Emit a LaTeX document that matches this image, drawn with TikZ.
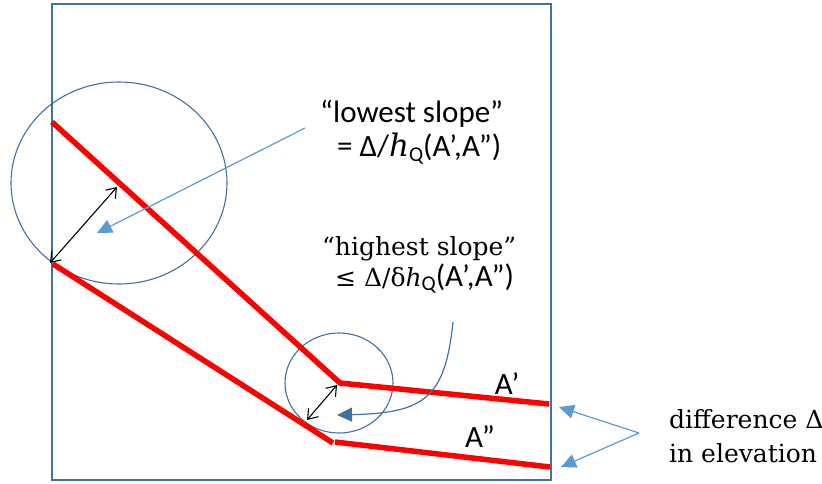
\documentclass[tikz,border=0pt]{standalone}
\usepackage{fontspec}
\setmainfont{Carlito}
\newfontfamily\calfont{Carlito}
\newfontfamily\serfont{DejaVu Serif}
\usetikzlibrary{arrows.meta}
\definecolor{boxblue}{HTML}{41719C}
\definecolor{lightblue}{HTML}{5B9BD5}
\tikzset{
  frame/.style={draw=boxblue, line width=2.2pt},
  ring/.style={draw=boxblue, line width=1.1pt},
  redline/.style={draw=red, line width=5.5pt, line join=miter},
  ptr/.style={draw=lightblue, line width=1.2pt, -{Triangle[length=15pt,width=14pt]}},
  dptr/.style={draw=boxblue, line width=1.2pt, -{Triangle[length=15pt,width=14pt]}},
  dbl/.style={draw=black, line width=1.1pt, {Straight Barb[length=9pt,width=13pt]}-{Straight Barb[length=9pt,width=13pt]}},
  sanslbl/.style={font=\calfont\fontsize{31}{35}\selectfont, inner sep=0pt},
  serlbl/.style={font=\serfont\fontsize{25}{30}\selectfont, inner sep=0pt}
}
\begin{document}
\begin{tikzpicture}[x=1pt,y=-1pt]
\useasboundingbox (0,0) rectangle (822,483);
% frame
\draw[frame] (52,4) rectangle (551,480);
% circles
\draw[ring] (119,183) ellipse [x radius=108, y radius=101];
\draw[ring] (339,383) ellipse [x radius=54, y radius=50];
% red lines
\coordinate (a1) at (52,122);
\coordinate (a2) at (340,383);
\coordinate (a3) at (549,404);
\coordinate (b1) at (53,264);
\coordinate (b2) at (333,443);
\coordinate (b3) at (335,442);
\coordinate (b4) at (550,467);
\draw[redline] (a1) -- (a2) -- (a3);
\draw[redline] (b1) -- (b2);
\draw[redline] (b3) -- (b4);
% double arrows
\coordinate (d1) at (50,263);
\coordinate (d2) at (117,187);
\coordinate (d3) at (307,420);
\coordinate (d4) at (337,385);
\draw[dbl] (d1) -- (d2);
\draw[dbl] (d3) -- (d4);
% labels
\node[sanslbl, anchor=base west] (low1) at (320,122) {“lowest slope”};
\node[sanslbl, anchor=base west] (low2) at (337,156) {= Δ/{\serfont\itshape h}\raisebox{-0.18em}{\fontsize{21}{21}\selectfont Q}(A’,A”)};
\node[serlbl, anchor=base west] (high1) at (322,255) {“highest slope”};
\node[serlbl, anchor=base west] (high2) at (335,286) {≤ Δ/δ\textit{h}{\calfont\raisebox{-0.18em}{\fontsize{21}{21}\selectfont Q}\fontsize{31}{35}\selectfont(A’,A”)}};
\node[sanslbl] (Ap) at (507,384) {A’};
\node[sanslbl] (App) at (480,437) {A”};
\node[serlbl, anchor=base west] (diff1) at (669,428) {difference Δ};
\node[serlbl, anchor=base west] (diff2) at (669,462) {in elevation};
% pointers
\coordinate (p1) at (305,128);
\coordinate (p2) at (97,233);
\draw[ptr] (p1) -- (p2);
\coordinate (c1) at (453,322);
\coordinate (c2) at (337,415);
\draw[dptr] (c1) .. controls (445,398) and (425,413) .. (c2);
\coordinate (q0) at (639,433);
\coordinate (q1) at (559,407);
\coordinate (q2) at (561,467);
\draw[ptr] (q0) -- (q1);
\draw[ptr] (q0) -- (q2);
\end{tikzpicture}
\end{document}
